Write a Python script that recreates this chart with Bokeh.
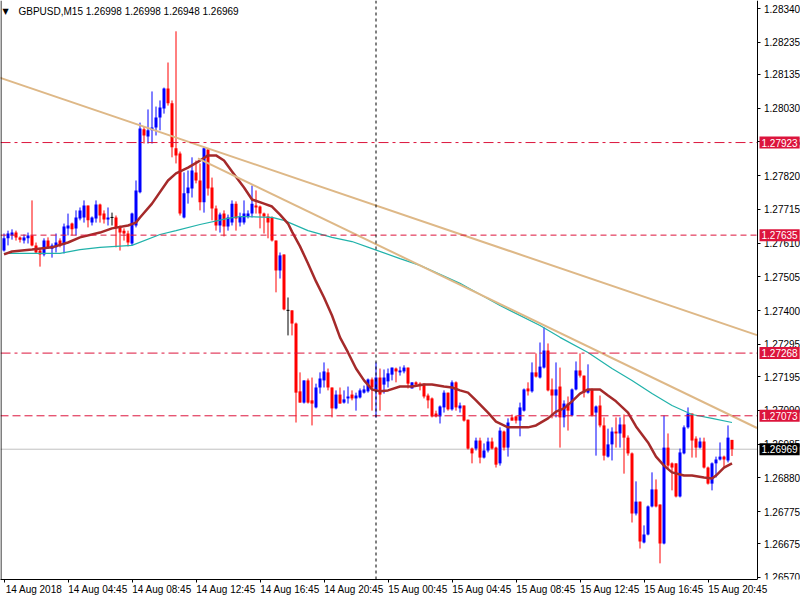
from bokeh.plotting import figure
from bokeh.models import (Range1d, LinearAxis, FixedTicker, Span, Label,
                          ColumnDataSource, PrintfTickFormatter)
from bokeh.embed import file_html
from bokeh.resources import INLINE

FONT = "Liberation Sans"

# ---------------- data (GBPUSD M15, 14 Aug 00:45 .. 15 Aug 22:15) ----------------
opens = [
    1.27587, 1.27625, 1.27634, 1.27643, 1.27628, 1.27618, 1.27625, 1.27634, 1.27603, 1.27587,
    1.27575, 1.27618, 1.27593, 1.27597, 1.27618, 1.27606, 1.27656, 1.27671, 1.27656, 1.27687,
    1.27690, 1.27727, 1.27674, 1.27687, 1.27730, 1.27702, 1.27684, 1.27690, 1.27690, 1.27659,
    1.27649, 1.27640, 1.27609, 1.27665, 1.27768, 1.27964, 1.27942, 1.27961, 1.27970, 1.28001,
    1.28029, 1.28091, 1.28045, 1.27905, 1.27889, 1.27690, 1.27765, 1.27780, 1.27830, 1.27805,
    1.27737, 1.27901, 1.27783, 1.27718, 1.27665, 1.27702, 1.27662, 1.27674, 1.27733, 1.27674,
    1.27674, 1.27693, 1.27702, 1.27727, 1.27724, 1.27702, 1.27693, 1.27690, 1.27618, 1.27525,
    1.27575, 1.27401, 1.27401, 1.27360, 1.27149, 1.27114, 1.27183, 1.27121, 1.27099, 1.27161,
    1.27183, 1.27208, 1.27161, 1.27096, 1.27139, 1.27114, 1.27127, 1.27139, 1.27127, 1.27130,
    1.27145, 1.27149, 1.27186, 1.27149, 1.27192, 1.27170, 1.27180, 1.27201, 1.27220, 1.27208,
    1.27211, 1.27223, 1.27158, 1.27177, 1.27173, 1.27173, 1.27136, 1.27127, 1.27080, 1.27071,
    1.27099, 1.27145, 1.27093, 1.27177, 1.27096, 1.27105, 1.27061, 1.26971, 1.26971, 1.26996,
    1.26943, 1.26965, 1.26993, 1.26974, 1.26925, 1.27024, 1.26974, 1.27068, 1.27071, 1.27058,
    1.27089, 1.27158, 1.27149, 1.27208, 1.27192, 1.27223, 1.27276, 1.27155, 1.27136, 1.27164,
    1.27068, 1.27111, 1.27074, 1.27155, 1.27214, 1.27198, 1.27145, 1.27155, 1.27083, 1.27105,
    1.27043, 1.26946, 1.26984, 1.27024, 1.27018, 1.27046, 1.27005, 1.26956, 1.26769, 1.26806,
    1.26679, 1.26704, 1.26791, 1.26844, 1.26797, 1.26676, 1.26974, 1.26925, 1.26925, 1.26822,
    1.26956, 1.27037, 1.27080, 1.27002, 1.26974, 1.26993, 1.26912, 1.26862, 1.26925, 1.26937,
    1.26946, 1.26934, 1.26998]

highs = [
    1.27640, 1.27649, 1.27653, 1.27649, 1.27631, 1.27637, 1.27643, 1.27743, 1.27612, 1.27593,
    1.27625, 1.27628, 1.27609, 1.27640, 1.27625, 1.27671, 1.27702, 1.27674, 1.27712, 1.27721,
    1.27743, 1.27727, 1.27693, 1.27743, 1.27733, 1.27712, 1.27721, 1.27705, 1.27696, 1.27665,
    1.27656, 1.27649, 1.27705, 1.27805, 1.27985, 1.27973, 1.28026, 1.28082, 1.28035, 1.28054,
    1.28094, 1.28172, 1.28054, 1.28269, 1.27895, 1.27830, 1.27836, 1.27877, 1.27867, 1.27858,
    1.27908, 1.27905, 1.27814, 1.27727, 1.27705, 1.27712, 1.27699, 1.27743, 1.27740, 1.27705,
    1.27743, 1.27712, 1.27789, 1.27774, 1.27727, 1.27705, 1.27702, 1.27693, 1.27618, 1.27581,
    1.27575, 1.27441, 1.27401, 1.27363, 1.27208, 1.27183, 1.27189, 1.27192, 1.27173, 1.27208,
    1.27239, 1.27220, 1.27161, 1.27152, 1.27161, 1.27152, 1.27164, 1.27152, 1.27145, 1.27158,
    1.27167, 1.27189, 1.27192, 1.27239, 1.27220, 1.27217, 1.27220, 1.27223, 1.27223, 1.27226,
    1.27230, 1.27223, 1.27177, 1.27180, 1.27177, 1.27173, 1.27142, 1.27130, 1.27089, 1.27105,
    1.27152, 1.27145, 1.27183, 1.27180, 1.27114, 1.27105, 1.27061, 1.26974, 1.27005, 1.27005,
    1.26987, 1.27005, 1.27005, 1.26977, 1.27037, 1.27027, 1.27065, 1.27077, 1.27074, 1.27114,
    1.27158, 1.27177, 1.27239, 1.27267, 1.27301, 1.27348, 1.27298, 1.27189, 1.27239, 1.27223,
    1.27121, 1.27133, 1.27158, 1.27242, 1.27267, 1.27198, 1.27233, 1.27158, 1.27105, 1.27136,
    1.27068, 1.27033, 1.27037, 1.27068, 1.27068, 1.27077, 1.27012, 1.26959, 1.26869, 1.26806,
    1.26732, 1.26794, 1.26897, 1.26875, 1.26797, 1.27074, 1.27018, 1.26928, 1.26925, 1.26971,
    1.27043, 1.27099, 1.27080, 1.27009, 1.27005, 1.27005, 1.26915, 1.26928, 1.26946, 1.26990,
    1.26949, 1.27043, 1.26998]

lows = [
    1.27584, 1.27603, 1.27621, 1.27618, 1.27612, 1.27609, 1.27609, 1.27600, 1.27578, 1.27537,
    1.27569, 1.27593, 1.27565, 1.27581, 1.27597, 1.27578, 1.27634, 1.27634, 1.27634, 1.27681,
    1.27674, 1.27659, 1.27665, 1.27674, 1.27674, 1.27671, 1.27665, 1.27665, 1.27597, 1.27587,
    1.27618, 1.27600, 1.27603, 1.27659, 1.27765, 1.27920, 1.27920, 1.27920, 1.27945, 1.27961,
    1.28013, 1.28038, 1.27877, 1.27858, 1.27696, 1.27687, 1.27733, 1.27752, 1.27796, 1.27712,
    1.27705, 1.27758, 1.27681, 1.27649, 1.27643, 1.27631, 1.27649, 1.27665, 1.27649, 1.27662,
    1.27668, 1.27687, 1.27690, 1.27702, 1.27656, 1.27640, 1.27625, 1.27615, 1.27457, 1.27500,
    1.27401, 1.27323, 1.27323, 1.27052, 1.27114, 1.27111, 1.27111, 1.27043, 1.27096, 1.27142,
    1.27161, 1.27152, 1.27068, 1.27093, 1.27111, 1.27111, 1.27111, 1.27121, 1.27089, 1.27127,
    1.27142, 1.27145, 1.27089, 1.27068, 1.27089, 1.27142, 1.27161, 1.27183, 1.27177, 1.27198,
    1.27205, 1.27158, 1.27158, 1.27167, 1.27152, 1.27127, 1.27096, 1.27068, 1.27068, 1.27049,
    1.27083, 1.27089, 1.27089, 1.27089, 1.27083, 1.27055, 1.26968, 1.26925, 1.26965, 1.26925,
    1.26940, 1.26959, 1.26968, 1.26912, 1.26918, 1.26965, 1.26946, 1.27058, 1.27049, 1.27009,
    1.27086, 1.27136, 1.27145, 1.27192, 1.27189, 1.27220, 1.27149, 1.27065, 1.27068, 1.26974,
    1.27037, 1.27027, 1.27071, 1.27152, 1.27192, 1.27130, 1.27142, 1.27071, 1.26949, 1.27037,
    1.26934, 1.26943, 1.26934, 1.26974, 1.26974, 1.26893, 1.26949, 1.26741, 1.26763, 1.26660,
    1.26676, 1.26701, 1.26788, 1.26788, 1.26614, 1.26673, 1.26909, 1.26841, 1.26819, 1.26819,
    1.26953, 1.27033, 1.26943, 1.26943, 1.26971, 1.26909, 1.26859, 1.26841, 1.26881, 1.26934,
    1.26912, 1.26928, 1.26948]

closes = [
    1.27625, 1.27640, 1.27643, 1.27628, 1.27621, 1.27628, 1.27634, 1.27603, 1.27581, 1.27575,
    1.27618, 1.27597, 1.27603, 1.27612, 1.27603, 1.27662, 1.27665, 1.27653, 1.27690, 1.27712,
    1.27727, 1.27681, 1.27690, 1.27730, 1.27696, 1.27684, 1.27690, 1.27690, 1.27659, 1.27643,
    1.27640, 1.27612, 1.27702, 1.27774, 1.27967, 1.27945, 1.27961, 1.27970, 1.28001, 1.28032,
    1.28091, 1.28045, 1.27908, 1.27883, 1.27702, 1.27765, 1.27783, 1.27836, 1.27805, 1.27737,
    1.27905, 1.27780, 1.27718, 1.27665, 1.27699, 1.27662, 1.27690, 1.27733, 1.27687, 1.27693,
    1.27702, 1.27702, 1.27733, 1.27721, 1.27702, 1.27693, 1.27674, 1.27618, 1.27525, 1.27572,
    1.27404, 1.27401, 1.27360, 1.27145, 1.27114, 1.27183, 1.27114, 1.27111, 1.27161, 1.27189,
    1.27211, 1.27161, 1.27096, 1.27139, 1.27111, 1.27124, 1.27133, 1.27127, 1.27136, 1.27152,
    1.27155, 1.27186, 1.27161, 1.27192, 1.27139, 1.27192, 1.27205, 1.27223, 1.27211, 1.27214,
    1.27223, 1.27173, 1.27177, 1.27170, 1.27167, 1.27133, 1.27121, 1.27071, 1.27071, 1.27102,
    1.27145, 1.27093, 1.27177, 1.27099, 1.27105, 1.27058, 1.26971, 1.26956, 1.26996, 1.26943,
    1.26965, 1.26993, 1.26971, 1.26921, 1.27027, 1.26974, 1.27052, 1.27058, 1.27058, 1.27099,
    1.27155, 1.27149, 1.27208, 1.27195, 1.27226, 1.27276, 1.27152, 1.27136, 1.27155, 1.27068,
    1.27111, 1.27089, 1.27155, 1.27214, 1.27198, 1.27145, 1.27155, 1.27074, 1.27102, 1.27043,
    1.26949, 1.26984, 1.27024, 1.27018, 1.27046, 1.27005, 1.26956, 1.26769, 1.26806, 1.26682,
    1.26704, 1.26791, 1.26844, 1.26791, 1.26676, 1.26974, 1.26918, 1.26912, 1.26822, 1.26959,
    1.27037, 1.27080, 1.26996, 1.26974, 1.26993, 1.26912, 1.26862, 1.26925, 1.26937, 1.26946,
    1.26937, 1.27005, 1.26969]

# fast moving average (brown) at bar indices
ma_fast_bar = [0, 2, 7, 12, 16, 19, 24, 27, 31, 33, 34, 37, 41, 43, 46, 49, 51, 53, 55, 57,
               60, 62, 65, 67, 69, 71, 72, 74, 76, 78, 80, 82, 84, 86, 88, 90, 92, 94, 96, 99,
               102, 105, 107, 110, 112, 114, 116, 118, 121, 123, 126, 128, 131, 133, 136, 138,
               140, 142, 144, 146, 149, 151, 153, 156, 158, 161, 163, 165, 167, 170, 172, 175,
               177, 178, 180, 182]
ma_fast = [1.27575, 1.27584, 1.27590, 1.27597, 1.27612, 1.27628, 1.27643, 1.27656, 1.27665,
           1.27674, 1.27690, 1.27733, 1.27805, 1.27827, 1.27845, 1.27867, 1.27883, 1.27883,
           1.27867, 1.27833, 1.27783, 1.27746, 1.27733, 1.27724, 1.27699, 1.27671, 1.27646,
           1.27600, 1.27547, 1.27491, 1.27441, 1.27385, 1.27317, 1.27270, 1.27220, 1.27183,
           1.27155, 1.27149, 1.27152, 1.27164, 1.27164, 1.27170, 1.27170, 1.27164, 1.27161,
           1.27152, 1.27145, 1.27121, 1.27083, 1.27055, 1.27037, 1.27037, 1.27037, 1.27043,
           1.27065, 1.27086, 1.27096, 1.27118, 1.27142, 1.27155, 1.27155, 1.27136, 1.27118,
           1.27083, 1.27040, 1.26990, 1.26946, 1.26918, 1.26897, 1.26887, 1.26887, 1.26881,
           1.26878, 1.26887, 1.26912, 1.26925]

# slow moving average (light sea green)
ma_slow_bar = [0, 14, 19, 24, 32, 39, 43, 49, 56, 59, 67, 70, 76, 82, 87, 92, 99, 104, 114,
               124, 134, 139, 146, 152, 157, 162, 167, 172, 177, 182]
ma_slow = [1.27578, 1.27578, 1.27590, 1.27597, 1.27603, 1.27637, 1.27649, 1.27668, 1.27687,
           1.27693, 1.27690, 1.27681, 1.27649, 1.27628, 1.27615, 1.27593, 1.27562, 1.27541,
           1.27485, 1.27416, 1.27354, 1.27317, 1.27270, 1.27220, 1.27183, 1.27142, 1.27105,
           1.27077, 1.27065, 1.27052]

# chart edge (bar index where the price scale sits)
edge_bar = 188.25

# trend lines (bar index, price)
trend1_bar = [-2, edge_bar]
trend1_price = [1.28129, 1.27324]
trend2_bar = [48.5, edge_bar]
trend2_price = [1.27874, 1.27035]

# horizontal levels
levels = [1.27923, 1.27635, 1.27268, 1.27073]
level_dash = ["10 4 3 4", "6 4", "10 4 3 4", "8 4"]
bid = 1.26969
day_separator_bar = 93

# axis ticks
y_ticks = [1.28340, 1.28235, 1.28135, 1.28030, 1.27925, 1.27820, 1.27715, 1.27610, 1.27505,
           1.27400, 1.27295, 1.27195, 1.27090, 1.26985, 1.26880, 1.26775, 1.26675, 1.26570]
x_tick_bars = [0, 16, 32, 48, 64, 80, 96, 112, 128, 144, 160, 176]
x_tick_labels = ["14 Aug 2018", "14 Aug 04:45", "14 Aug 08:45", "14 Aug 12:45",
                 "14 Aug 16:45", "14 Aug 20:45", "15 Aug 00:45", "15 Aug 04:45",
                 "15 Aug 08:45", "15 Aug 12:45", "15 Aug 16:45", "15 Aug 20:45"]
title_text = "GBPUSD,M15  1.26998 1.26998 1.26948 1.26969"

# ---------------- figure ----------------
n = len(opens)
bars = list(range(n))
colors = ["#0000FF" if c > o else ("#FF0000" if c < o else "#000000")
          for o, c in zip(opens, closes)]
src = ColumnDataSource(dict(
    x=bars, h=highs, l=lows,
    top=[max(o, c) for o, c in zip(opens, closes)],
    bot=[min(o, c) for o, c in zip(opens, closes)],
    color=colors))
doji = [i for i in bars if opens[i] == closes[i]]
dsrc = ColumnDataSource(dict(x0=[i - 0.375 for i in doji], x1=[i + 0.375 for i in doji],
                             y=[opens[i] for i in doji]))

x0 = -0.875
p = figure(frame_width=800, frame_height=579,
           x_range=Range1d(x0, x0 + 200), y_range=Range1d(1.265637, 1.283649),
           output_backend="svg", toolbar_location=None,
           x_axis_location=None, y_axis_location=None, min_border=0,
           outline_line_color=None, background_fill_color="white",
           border_fill_color="white")
p.xgrid.visible = False
p.ygrid.visible = False

# left border
p.add_layout(Span(location=-0.75, dimension="height", line_color="black", line_width=1))

# bid line and day separator
p.segment(x0=[x0], y0=[bid], x1=[edge_bar], y1=[bid], line_color="#C0C0C0", line_width=1)
p.add_layout(Span(location=day_separator_bar, dimension="height", line_color="black",
                  line_width=1, line_dash="3 3"))

# candles
p.segment(x0="x", y0="h", x1="x", y1="l", line_color="color", line_width=1, source=src)
p.vbar(x="x", width=0.75, top="top", bottom="bot", fill_color="color", line_color=None,
       source=src)
p.segment(x0="x0", y0="y", x1="x1", y1="y", line_color="#000000", line_width=1, source=dsrc)

# moving averages
p.line(ma_slow_bar, ma_slow, line_color="#20B2AA", line_width=1.2)
p.line(ma_fast_bar, ma_fast, line_color="#A52A2A", line_width=2.5)

# trend lines
p.line(trend1_bar, trend1_price, line_color="#DEB887", line_width=2)
p.line(trend2_bar, trend2_price, line_color="#DEB887", line_width=2)

# horizontal levels
for lv, dash in zip(levels, level_dash):
    p.segment(x0=[x0], y0=[lv], x1=[edge_bar], y1=[lv], line_color="#DC143C",
              line_width=1, line_dash=dash)

# right price scale (fixed at the chart edge)
yax = LinearAxis(ticker=FixedTicker(ticks=y_ticks),
                 formatter=PrintfTickFormatter(format="%.5f"),
                 fixed_location=edge_bar,
                 axis_line_color="black", major_tick_out=3, major_tick_in=0,
                 minor_tick_line_color=None, major_label_standoff=4,
                 major_label_text_font=FONT, major_label_text_font_size="10px",
                 major_label_text_color="black")
p.add_layout(yax, "right")

# bottom axis: tick marks
xt = LinearAxis(ticker=FixedTicker(ticks=x_tick_bars),
                major_label_overrides={b: "" for b in x_tick_bars},
                major_label_text_font_size="0px", major_label_standoff=0,
                axis_line_color="black", major_tick_out=3, major_tick_in=0,
                minor_tick_line_color=None, bounds=(x0, edge_bar))
p.add_layout(xt, "below")
# bottom axis: labels (left aligned to the tick marks)
lab_pos = [b + 7.5 for b in x_tick_bars]
xl = LinearAxis(ticker=FixedTicker(ticks=lab_pos),
                major_label_overrides={pos: t for pos, t in zip(lab_pos, x_tick_labels)},
                axis_line_color=None, major_tick_line_color=None, minor_tick_line_color=None,
                major_tick_out=0, major_tick_in=0, major_label_standoff=1,
                major_label_text_font=FONT, major_label_text_font_size="10px",
                major_label_text_color="black")
p.add_layout(xl, "below")

# price tags on the scale
for lv in levels:
    p.add_layout(Label(x=759, y=lv, x_units="screen", y_units="data", text=f"{lv:.5f}",
                       text_color="white", text_font=FONT, text_font_size="10px",
                       text_baseline="middle", text_align="left",
                       background_fill_color="#DC143C", padding=2))
p.add_layout(Label(x=759, y=bid, x_units="screen", y_units="data", text=f"{bid:.5f}",
                   text_color="white", text_font=FONT, text_font_size="10px",
                   text_baseline="middle", text_align="left",
                   background_fill_color="#000000", padding=2))

# title
p.add_layout(Label(x=2, y=568, x_units="screen", y_units="screen", text="▼",
                   text_font="DejaVu Sans", text_font_size="8px", text_color="black",
                   text_baseline="middle"))
p.add_layout(Label(x=18, y=568, x_units="screen", y_units="screen", text=title_text,
                   text_font=FONT, text_font_size="10px", text_color="black",
                   text_baseline="middle"))

open("out.html", "w").write(file_html(p, INLINE))
